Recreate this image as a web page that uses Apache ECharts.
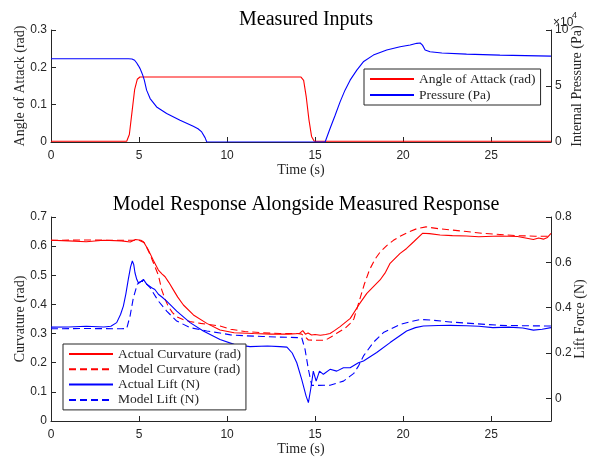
<!DOCTYPE html>
<html>
<head>
<meta charset="utf-8">
<script src="https://cdn.jsdelivr.net/npm/echarts@6/dist/echarts.min.js"></script>
<style>
  html, body { margin: 0; padding: 0; background: #fff; }
  #chart { width: 598px; height: 462px; }
</style>
</head>
<body>
<div id="chart"></div>
<script>
// time axis shared by both panels (s)
const timeMax = 28.4;
const timeTicks = [0, 5, 10, 15, 20, 25];

// --- Measured Inputs ---
const aoaTime = [0, 4.3, 4.45, 4.6, 4.75, 4.9, 5.05, 14.2, 14.35, 14.5, 14.65, 14.8, 14.95, 28.4];
const aoaRad = [0.002, 0.002, 0.02, 0.08, 0.14, 0.168, 0.174, 0.174, 0.165, 0.12, 0.06, 0.015, 0.002, 0.002];

const presTime = [0, 4.4, 4.6, 4.75, 4.87, 4.97, 5.06, 5.14, 5.21, 5.3, 5.43, 5.63, 6.0, 6.57, 7.33, 8.08, 8.35, 8.56, 8.75, 8.85,
  15.57, 15.85, 16.14, 16.42, 16.7, 16.99, 17.37, 17.74, 18.31, 19.07, 19.83, 20.4, 20.78, 20.97, 21.1, 21.25, 21.53, 22.2, 23.6, 25.5, 28.4];
const presPa = [74300, 74300, 74100, 73000, 70500, 68000, 65500, 62500, 59700, 55200, 46300, 38800, 31300, 25400, 19400, 14000, 11800, 9000, 3900, 0,
  0, 12000, 23900, 35800, 46300, 55200, 64200, 71600, 77600, 82100, 85000, 86600, 88100, 88400, 86500, 82100, 80600, 79500, 78500, 77600, 76700];

// --- Model Response Alongside Measured Response ---
const curvActTime = [0, 1, 2, 3, 4, 4.5, 4.8, 5.1, 5.25, 5.5, 5.81, 6.1, 6.3, 6.48, 6.7, 6.95, 7.2, 7.52, 8.09, 8.85, 9.6, 10.4, 11.5, 12.5, 13.5,
  14.1, 14.3, 14.45, 14.6, 14.8, 15.0, 15.3, 15.6, 15.85, 16.1, 16.42, 17.0, 17.5, 17.94, 18.3, 18.69, 19.0, 19.26, 19.83, 20.2, 20.6, 21.1,
  21.5, 22.1, 22.8, 23.6, 24.3, 25.5, 26.5, 27.4, 27.7, 27.97, 28.2, 28.4];
const curvActRad = [0.62, 0.618, 0.615, 0.62, 0.618, 0.614, 0.623, 0.62, 0.615, 0.59, 0.552, 0.518, 0.505, 0.495, 0.475, 0.45, 0.425, 0.398, 0.364, 0.335, 0.312,
  0.303, 0.3, 0.298, 0.298, 0.3, 0.31, 0.298, 0.302, 0.295, 0.297, 0.294, 0.297, 0.3, 0.31, 0.324, 0.352, 0.4, 0.438, 0.46, 0.484, 0.51, 0.541, 0.575, 0.592,
  0.615, 0.644, 0.643, 0.638, 0.636, 0.635, 0.632, 0.635, 0.633, 0.623, 0.628, 0.624, 0.63, 0.644];

const curvModTime = [0, 2, 4, 5.0, 5.3, 5.6, 5.9, 6.1, 6.29, 6.5, 6.67, 6.9, 7.14, 7.5, 7.9, 8.5, 9.6, 10.2, 11, 12, 13, 14.0, 14.24, 14.45, 14.62, 15.0,
  15.57, 15.9, 16.23, 16.7, 17.0, 17.2, 17.5, 17.8, 18.1, 18.4, 18.7, 19.07, 19.45, 19.83, 20.3, 20.78, 21.3, 22.0, 22.8, 23.6, 24.5, 25.5, 26.5, 27.5, 28.4];
const curvModRad = [0.62, 0.621, 0.62, 0.62, 0.612, 0.575, 0.53, 0.5, 0.45, 0.415, 0.392, 0.372, 0.358, 0.348, 0.341, 0.335, 0.326, 0.315, 0.307, 0.303, 0.3,
  0.3, 0.298, 0.288, 0.278, 0.277, 0.277, 0.288, 0.301, 0.318, 0.335, 0.35, 0.41, 0.47, 0.52, 0.555, 0.58, 0.602, 0.62, 0.634, 0.648, 0.66, 0.666, 0.66,
  0.655, 0.65, 0.644, 0.64, 0.636, 0.634, 0.634];

const liftActTime = [0, 1, 2, 3, 3.4, 3.73, 3.95, 4.11, 4.25, 4.39, 4.52, 4.62, 4.7, 4.77, 4.87, 4.96, 5.1, 5.25, 5.35, 5.44, 5.55, 5.72, 5.9, 6.1, 6.3,
  6.57, 7.14, 7.9, 8.65, 9.6, 10.4, 11.3, 12.3, 13.0, 13.4, 13.7, 13.96, 14.24, 14.49, 14.62, 14.75, 14.9, 15.06, 15.25, 15.47, 15.85, 16.23, 16.61,
  16.99, 17.46, 17.75, 18.5, 19.26, 20.2, 20.7, 21.15, 22.0, 22.67, 23.6, 24.3, 25.1, 26.0, 26.8, 27.4, 27.9, 28.4];
const liftActN = [0.314, 0.315, 0.318, 0.315, 0.318, 0.334, 0.37, 0.407, 0.46, 0.525, 0.58, 0.606, 0.59, 0.554, 0.525, 0.51, 0.515, 0.525, 0.518, 0.503,
  0.495, 0.488, 0.48, 0.459, 0.447, 0.429, 0.385, 0.334, 0.297, 0.26, 0.238, 0.228, 0.231, 0.228, 0.226, 0.2, 0.157, 0.084, 0.01, -0.019, 0.04, 0.12,
  0.076, 0.12, 0.106, 0.128, 0.12, 0.135, 0.135, 0.157, 0.165, 0.202, 0.246, 0.297, 0.312, 0.319, 0.321, 0.322, 0.32, 0.318, 0.312, 0.314, 0.31, 0.301,
  0.305, 0.312];

const liftModTime = [0, 2, 4, 4.3, 4.49, 4.68, 4.9, 5.15, 5.3, 5.63, 6.1, 6.57, 7.14, 7.9, 8.85, 9.6, 10.2, 11, 12, 13, 14.0, 14.24, 14.43, 14.62, 14.81,
  15.2, 15.85, 16.2, 16.61, 16.99, 17.2, 17.46, 17.75, 18.3, 18.88, 19.83, 20.5, 20.97, 21.6, 22.67, 23.6, 25.5, 27, 28.4];
const liftModN = [0.307, 0.308, 0.307, 0.308, 0.363, 0.444, 0.503, 0.517, 0.515, 0.488, 0.429, 0.385, 0.341, 0.312, 0.297, 0.288, 0.28, 0.276, 0.273,
  0.27, 0.268, 0.268, 0.216, 0.128, 0.057, 0.057, 0.058, 0.066, 0.076, 0.098, 0.11, 0.142, 0.187, 0.246, 0.29, 0.326, 0.34, 0.348, 0.345, 0.337,
  0.332, 0.322, 0.32, 0.319];

const liftTicks = [0, 0.2, 0.4, 0.6, 0.8];

const axisColor = '#262626';
const sans = 'Liberation Sans, Arial, sans-serif';
const serif = 'Liberation Serif, Times New Roman, serif';
const dashed = [7, 4];

function pairs(t, v) {
  return t.map((x, i) => [x, v[i]]);
}

function timeAxis(gridIndex) {
  return {
    type: 'value', gridIndex: gridIndex, min: 0, max: timeMax,
    name: 'Time (s)', nameLocation: 'middle', nameGap: 19,
    nameTextStyle: { fontFamily: serif, fontSize: 14, color: axisColor },
    axisLine: { show: true, onZero: false, lineStyle: { color: axisColor } },
    axisTick: { show: true, inside: true, length: 5, customValues: timeTicks, lineStyle: { color: axisColor } },
    axisLabel: { customValues: timeTicks, color: axisColor, fontFamily: sans, fontSize: 12, margin: 8 },
    splitLine: { show: false }
  };
}

function valueAxis(gridIndex, pos, opts) {
  return Object.assign({
    type: 'value', gridIndex: gridIndex, position: pos,
    nameLocation: 'middle', nameRotate: 90, nameMoveOverlap: false,
    nameTextStyle: { fontFamily: serif, fontSize: 14, color: axisColor },
    axisLine: { show: true, lineStyle: { color: axisColor } },
    axisTick: { show: true, inside: true, length: 5, lineStyle: { color: axisColor } },
    axisLabel: { color: axisColor, fontFamily: sans, fontSize: 12, margin: 4 },
    splitLine: { show: false }
  }, opts);
}

function line(name, data, color, xIdx, yIdx, type) {
  return {
    name: name, type: 'line', xAxisIndex: xIdx, yAxisIndex: yIdx,
    data: data, symbol: 'none', animation: false,
    lineStyle: { color: color, width: 1.1, type: type || 'solid' },
    itemStyle: { color: color }
  };
}

function legendBox(names, left, top, gap) {
  return {
    data: names,
    orient: 'vertical', left: left, top: top, padding: [3, 5, 3, 5],
    itemWidth: 44, itemHeight: 14, itemGap: gap,
    itemStyle: { opacity: 0 },
    borderColor: axisColor, borderWidth: 1, borderRadius: 0, backgroundColor: '#fff',
    textStyle: { fontFamily: serif, fontSize: 13.5, color: axisColor }
  };
}

const chart = echarts.init(document.getElementById('chart'));

chart.setOption({
  backgroundColor: '#fff',
  title: [
    { text: 'Measured Inputs', left: 301, top: 5, textAlign: 'center',
      textStyle: { fontFamily: serif, fontSize: 20, fontWeight: 'normal', color: '#000' } },
    { text: 'Model Response Alongside Measured Response', left: 301, top: 190, textAlign: 'center',
      textStyle: { fontFamily: serif, fontSize: 20, fontWeight: 'normal', color: '#000' } }
  ],
  grid: [
    { left: 51, width: 500, top: 30, height: 112 },
    { left: 51, width: 500, top: 217, height: 204 }
  ],
  xAxis: [timeAxis(0), timeAxis(1)],
  yAxis: [
    valueAxis(0, 'left', { min: 0, max: 0.3, interval: 0.1, name: 'Angle of Attack (rad)', nameGap: 24 }),
    valueAxis(0, 'right', { min: 0, max: 100000, interval: 50000, name: 'Internal Pressure (Pa)', nameGap: 19,
      axisLabel: { color: axisColor, fontFamily: sans, fontSize: 12, margin: 4, formatter: v => String(v / 10000) } }),
    valueAxis(1, 'left', { min: 0, max: 0.7, interval: 0.1, name: 'Curvature (rad)', nameGap: 24 }),
    valueAxis(1, 'right', { min: -0.1, max: 0.8, name: 'Lift Force (N)', nameGap: 22,
      axisTick: { show: true, inside: true, length: 5, customValues: liftTicks, lineStyle: { color: axisColor } },
      axisLabel: { customValues: liftTicks, color: axisColor, fontFamily: sans, fontSize: 12, margin: 4 } })
  ],
  legend: [
    legendBox(['Angle of Attack (rad)', 'Pressure (Pa)'], 364, 69, 2),
    legendBox(['Actual Curvature (rad)', 'Model Curvature (rad)', 'Actual Lift (N)', 'Model Lift (N)'], 63, 344, 1.3)
  ],
  graphic: [
    { type: 'text', left: 553, top: 17, style: { text: '×10', fontFamily: sans, fontSize: 12, fill: axisColor } },
    { type: 'text', left: 572, top: 11, style: { text: '4', fontFamily: sans, fontSize: 9, fill: axisColor } }
  ],
  series: [
    line('Angle of Attack (rad)', pairs(aoaTime, aoaRad), '#ff0000', 0, 0),
    line('Pressure (Pa)', pairs(presTime, presPa), '#0000ff', 0, 1),
    line('Actual Curvature (rad)', pairs(curvActTime, curvActRad), '#ff0000', 1, 2),
    line('Model Curvature (rad)', pairs(curvModTime, curvModRad), '#ff0000', 1, 2, dashed),
    line('Actual Lift (N)', pairs(liftActTime, liftActN), '#0000ff', 1, 3),
    line('Model Lift (N)', pairs(liftModTime, liftModN), '#0000ff', 1, 3, dashed)
  ]
});
</script>
</body>
</html>
